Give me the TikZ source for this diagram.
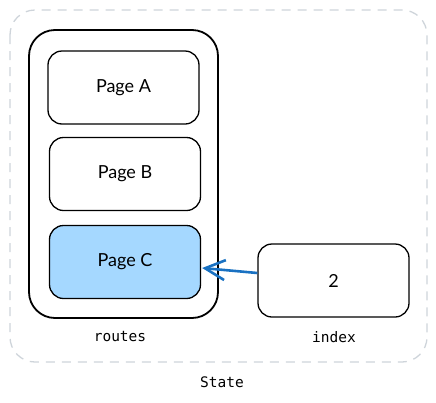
\documentclass[tikz,border=0pt]{standalone}
\usepackage{fontspec}
\setmainfont{Lato}
\setmonofont{DejaVu Sans Mono}
\usetikzlibrary{arrows.meta}
\definecolor{stategray}{HTML}{CED4DA}
\definecolor{pageblue}{HTML}{A5D8FF}
\definecolor{linkblue}{HTML}{1971C2}
\tikzset{
  page/.style={draw, line width=1.3pt, rounded corners=14pt, minimum width=151pt,
    minimum height=73pt, font=\fontsize{18}{20}\selectfont},
  caption/.style={font=\ttfamily\fontsize{14.5}{16}\selectfont}
}
\begin{document}
\begin{tikzpicture}[x=1pt,y=-1pt]
            \useasboundingbox (0,0) rectangle (436,402);
            \draw[stategray, line width=1.3pt, dash pattern=on 9pt off 7pt, rounded corners=25pt] (10,10) rectangle (427,362);
            \node[draw, line width=1.8pt, rounded corners=26pt, minimum width=189pt, minimum height=288pt] (routes) at (123.5,174) {};
            \node[page] (pagea) at (123.5,87.5) {Page A};
            \node[page] (pageb) at (125,174) {Page B};
            \node[page, fill=pageblue] (pagec) at (125,262) {Page C};
            \node[page] (index) at (333.5,280.5) {2};
            \node[caption] (routeslabel) at (120,337) {routes};
            \node[caption] (indexlabel) at (334,337) {index};
            \node[caption] (statelabel) at (222,382) {State};
            \draw[linkblue, line width=2.6pt, -{Straight Barb[length=20pt, width=20pt, line width=2.6pt]}]
                ([yshift=7.5pt]index.west) -- ([yshift=-6pt, xshift=1pt]pagec.east);
        \end{tikzpicture}
\end{document}
